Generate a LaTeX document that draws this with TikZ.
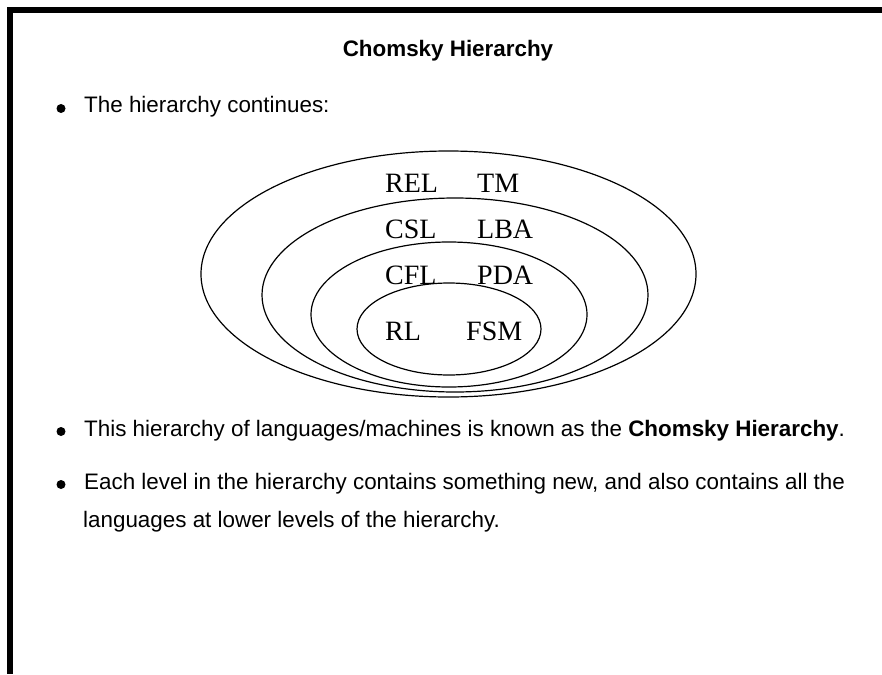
\documentclass[tikz,border=0pt]{standalone}
\usepackage{fontspec}
\setmainfont{Liberation Sans}
\newfontfamily\serifface{Liberation Serif}
\begin{document}
\begin{tikzpicture}[x=1pt,y=-1pt,
  txt/.style={anchor=base west,inner sep=0pt,font=\fontsize{22.4}{26}\selectfont},
  lbl/.style={anchor=base west,inner sep=0pt,font=\serifface\fontsize{28}{32}\selectfont},
  ring/.style={draw=black,line width=1.2pt},
  bul/.style={fill=black}]
\useasboundingbox (0,0) rectangle (882,674);
\fill (7,7) rectangle (882,13);
\fill (7,7) rectangle (13,674);
\node[anchor=base,inner sep=0pt,font=\bfseries\fontsize{22.4}{26}\selectfont] (title) at (448,57) {Chomsky Hierarchy};
% bullets
\fill[bul] (61,108.5) circle (4.5);
\node[txt] (b1) at (84,113) {The hierarchy continues:};
\fill[bul] (61,431.5) circle (4.5);
\node[txt] (b2) at (84,436) {This hierarchy of languages/machines is known as the \textbf{Chomsky Hierarchy}.};
\fill[bul] (61,484.5) circle (4.5);
\node[txt] (b3a) at (84,489) {Each level in the hierarchy contains something new, and also contains all the};
\node[txt] (b3b) at (83,527) {languages at lower levels of the hierarchy.};
% ellipses
\draw[ring] (448.5,274) ellipse [x radius=247.5,y radius=123];
\draw[ring] (455,295) ellipse [x radius=193,y radius=97];
\draw[ring] (449,314.5) ellipse [x radius=138,y radius=72.5];
\draw[ring] (449,329) ellipse [x radius=92,y radius=46];
% labels
\node[lbl] (rel) at (385,192) {REL};
\node[lbl] (tm) at (477,192) {TM};
\node[lbl] (csl) at (385,238) {CSL};
\node[lbl] (lba) at (477,238) {LBA};
\node[lbl] (cfl) at (385,284) {CFL};
\node[lbl] (pda) at (477,284) {PDA};
\node[lbl] (rl) at (385,340) {RL};
\node[lbl] (fsm) at (466,340) {FSM};
\end{tikzpicture}
\end{document}
